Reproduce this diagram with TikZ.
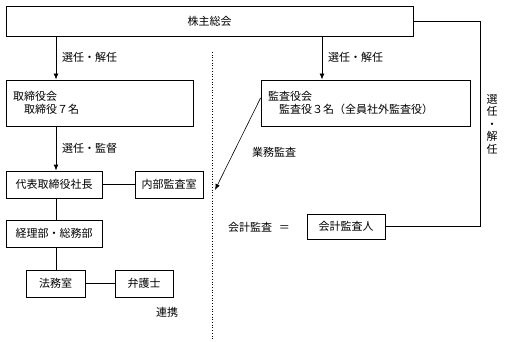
\documentclass[tikz,border=0pt]{standalone}
\usepackage{fontspec}
\newfontfamily\jp{Noto Sans CJK JP}
\usetikzlibrary{arrows.meta,positioning,calc}
\tikzset{
  box/.style={draw, line width=0.9pt, minimum height=27pt, inner sep=2pt, font=\jp\fontsize{11}{12.5}\selectfont},
  lbl/.style={font=\jp\fontsize{11}{12.5}\selectfont, inner sep=1pt},
  arr/.style={line width=0.9pt, -{Latex[length=6pt,width=5pt]}},
  ln/.style={line width=0.9pt}
}
\begin{document}
\begin{tikzpicture}[x=1pt, y=-1pt]
\useasboundingbox (0,0) rectangle (505,342);
% guide coordinates
\coordinate (spine) at (56,0);
\coordinate (kspine) at (322,0);
\coordinate (rline) at (480,0);
\coordinate (dtop) at (212,52);
\coordinate (dbot) at (212,340);
\coordinate (auditend) at (215,190);
% boxes
\node[box, minimum width=407pt, minimum height=30pt] (kabu) at (209.5,21) {株主総会};
\node[box, minimum width=187pt, minimum height=46pt, text width=173pt, inner xsep=7pt, align=left] (tori) at (99.5,103) {取締役会\\\hspace*{1em}取締役７名};
\node[box, minimum width=209pt, minimum height=46pt, text width=195pt, inner xsep=7pt, align=left] (kansa) at (365.5,103) {監査役会\\\hspace*{1em}監査役３名（全員社外監査役）};
\node[box, minimum width=96pt] (daihyo) at (54,184.5) {代表取締役社長};
\node[box, minimum width=68pt] (naibu) at (169,184.5) {内部監査室};
\node[box, minimum width=96pt] (keiri) at (54,233.5) {経理部・総務部};
\node[box, minimum width=59pt] (houmu) at (55.5,283.5) {法務室};
\node[box, minimum width=58pt] (bengo) at (144,283.5) {弁護士};
\node[box, minimum width=78pt, minimum height=25pt] (kaikei) at (346,226.5) {会計監査人};
% connectors
\draw[arr] (kabu.south -| spine) -- (tori.north -| spine);
\draw[arr] (kabu.south -| kspine) -- (kansa.north -| kspine);
\draw[arr] (tori.south -| spine) -- (daihyo.north -| spine);
\draw[ln] (daihyo.east) -- (naibu.west);
\draw[ln] (daihyo.south -| spine) -- (keiri.north -| spine);
\draw[ln] (keiri.south -| spine) -- (houmu.north -| spine);
\draw[ln] (houmu.east) -- (bengo.west);
\draw[ln] (kabu.east) -- (kabu.east -| rline) |- (kaikei.east);
\draw[line width=0.6pt, -{Latex[length=6pt,width=4.5pt]}] ([yshift=5pt]kansa.west) -- (auditend);
\draw[line width=0.7pt, dotted] (dtop) -- (dbot);
% labels
\node[lbl, anchor=west] (selA) at (61,57) {選任・解任};
\node[lbl, anchor=west] (selB) at (327,57) {選任・解任};
\node[lbl, anchor=west] (kantoku) at (61,148) {選任・監督};
\node[lbl] (gyomu) at (274,152) {業務監査};
\node[lbl] (renkei) at (167,312) {連携};
\node[lbl, anchor=west] (kaikeilbl) at (227,227) {会計監査\hspace{0.6em}＝};
\node[lbl, align=center, font=\jp\fontsize{11}{12.5}\selectfont] (selC) at (492,124) {選\\任\\・\\解\\任};
\end{tikzpicture}
\end{document}
